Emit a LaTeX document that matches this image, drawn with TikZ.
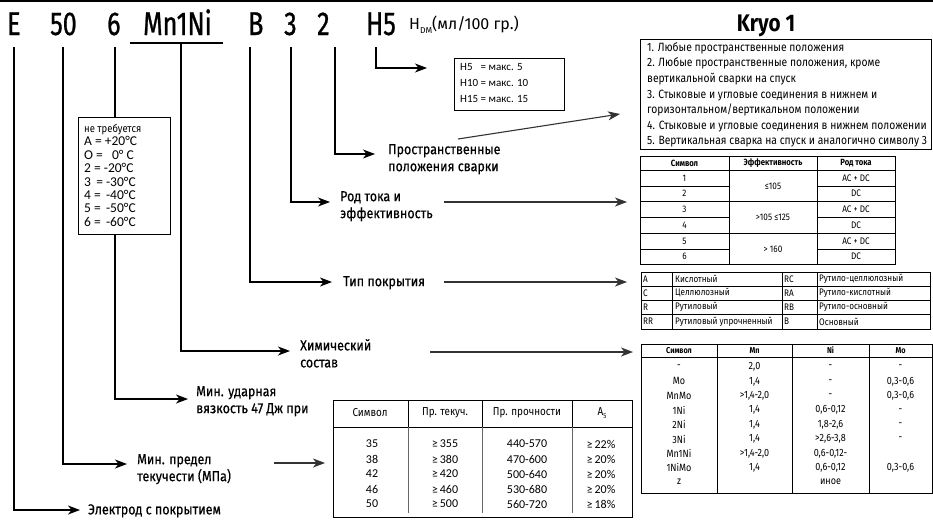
\documentclass[tikz,border=0pt]{standalone}
\usepackage{fontspec}
\setmainfont{Fira Sans}[FakeStretch=0.86]
\newfontfamily\calfont{Carlito}
\newfontfamily\medfont{Fira Sans}[FakeStretch=0.86,FakeBold=0.5]
\newfontfamily\hdrfont{Fira Sans}[FakeStretch=0.76,FakeBold=0.8]
\newfontfamily\widefont{Fira Sans}
\usetikzlibrary{arrows.meta}
\begin{document}
\begin{tikzpicture}[x=1pt,y=-1pt,
  conn/.style={line width=1.1pt,-{Stealth[length=12pt,width=9pt,inset=3.5pt]}},
  farr/.style={line width=1.1pt,black!80,-{Stealth[length=12pt,width=9pt,inset=3.5pt]}},
  lnk/.style={line width=1.1pt},
  grid/.style={line width=0.8pt},
  hdr/.style={anchor=base west,inner sep=0pt,font=\hdrfont\fontsize{33}{33}\selectfont},
  lbl/.style={anchor=north west,inner sep=0pt,align=left,font=\medfont\fontsize{14.5}{17}\selectfont},
  cellc/.style={inner sep=0pt,anchor=center},
  celll/.style={inner sep=0pt,anchor=west},
]
\useasboundingbox (0,0) rectangle (933,522);
\fill[white] (0,0) rectangle (933,522);
\draw[line width=2pt] (0,1) -- (933,1);

% ---- header code
\node[hdr] (hE) at (7,35) {E};
\node[hdr] (h50) at (50,35) {50};
\node[hdr] (h6) at (107,35) {6};
\node[hdr] (hMn) at (143,35) {Mn1Ni};
\node[hdr] (hB) at (248,35) {B};
\node[hdr] (h3) at (284,35) {3};
\node[hdr] (h2) at (317,35) {2};
\node[hdr] (hH) at (366,35) {H5};
\node[anchor=base west,inner sep=0pt,font=\widefont\fontsize{16}{16}\selectfont] (hdm) at (409,29) {H\raisebox{-4pt}{\fontsize{8.5}{8.5}\selectfont DM}(мл/100 гр.)};
\draw[lnk] (130,43) -- (223,43);

% ---- title
\node[anchor=base,inner sep=0pt,font=\fontsize{24}{24}\selectfont\bfseries] (kt) at (766,31) {Kryo 1};

% ---- connector tops and tips
\coordinate (cE) at (14,47);   \coordinate (aE) at (80,510);
\coordinate (c50) at (63,47);  \coordinate (a50) at (127,464);
\coordinate (c6) at (115,47);  \coordinate (a6) at (188,399);
\coordinate (cMn) at (181,43); \coordinate (aMn) at (290,351);
\coordinate (cB) at (250,47);  \coordinate (aB) at (332,282);
\coordinate (c3) at (291,47);  \coordinate (a3) at (330,202);
\coordinate (c2) at (335,47);  \coordinate (a2) at (375,154);
\coordinate (cH) at (376,47);  \coordinate (aH) at (427,68);

% ---- temperature box
\node[draw,line width=0.9pt,minimum width=92pt,minimum height=117pt,anchor=north west,inner sep=0pt] (tbox) at (78,117) {};
\node[anchor=north west,inner sep=0pt,align=left,font=\calfont\fontsize{13.5}{13.4}\selectfont] (ttext) at (84,124)
{{\rmfamily\fontsize{11}{11}\selectfont не требуется}\\A = +20°C\\O = \ \ 0° C\\2 = -20°C\\3 \,= -30°C\\4 = \,-40°C\\5 = \,-50°C\\6 = \,-60°C};

% ---- H box
\node[draw,line width=0.9pt,minimum width=110pt,minimum height=52pt,anchor=north west,inner sep=0pt] (hbox) at (454,58) {};
\node[anchor=north west,inner sep=0pt,align=left,font=\calfont\fontsize{11}{16}\selectfont] (htext) at (460,63)
{H5\hphantom{0} = макс. 5\\H10 = макс. 10\\H15 = макс. 15};

% ---- labels
\node[lbl] (lE) at (88,504) {Электрод с покрытием};
\node[lbl] (l50) at (137,454) {Мин. предел\\текучести (МПа)};
\node[lbl] (l6) at (196,386) {Мин. ударная\\вязкость 47 Дж при};
\node[lbl] (lMn) at (300,339) {Химический\\состав};
\node[lbl] (lB) at (343,276) {Тип покрытия};
\node[lbl] (l3) at (340,191) {Род тока и\\эффективность};
\node[lbl] (l2) at (388,144) {Пространственные\\положения сварки};

% ---- connectors
\draw[conn] (cE) |- (aE);
\draw[conn] (c50) |- (a50);
\draw[lnk] (c6) -- (c6 |- tbox.north);
\draw[conn] (c6 |- tbox.south) |- (a6);
\draw[conn] (cMn) |- (aMn);
\draw[conn] (cB) |- (aB);
\draw[conn] (c3) |- (a3);
\draw[conn] (c2) |- (a2);
\draw[conn] (cH) |- (aH);

\coordinate (s2) at (458,139); \coordinate (e2) at (620,114);
\coordinate (s3) at (444,202); \coordinate (e3) at (627,202);
\coordinate (sB) at (444,282); \coordinate (eB) at (627,282);
\coordinate (sM) at (430,352); \coordinate (eM) at (633,352);
\coordinate (s50) at (274,463); \coordinate (e50) at (325,463);
\draw[farr] (s2) -- (e2);
\draw[farr] (s3) -- (e3);
\draw[farr] (sB) -- (eB);
\draw[farr] (sM) -- (eM);
\draw[farr] (s50) -- (e50);

% ---- Kryo box
\node[draw,line width=0.9pt,minimum width=291pt,minimum height=110pt,anchor=north west,inner sep=0pt] (kbox) at (640,39) {};
\node[anchor=north west,inner sep=0pt,align=left,font=\fontsize{12}{15.6}\selectfont] (ktext) at (647,42)
{1. Любые пространственные положения\\
2. Любые пространственные положения, кроме\\
вертикальной сварки на спуск\\
3. Стыковые и угловые соединения в нижнем и\\
горизонтальном/вертикальном положении\\
4. Стыковые и угловые соединения в нижнем положении\\
5. Вертикальная сварка на спуск и аналогично символу 3};

% ---- table 2 (current / efficiency)
\draw[grid] (640,156) rectangle (895,264.5);
\draw[grid] (729,156) -- (729,264.5) (817,156) -- (817,264.5) (640,170) -- (895,170);
\foreach \yy in {186,201.5,217,233,249} \draw[grid] (640,\yy) -- (729,\yy) (817,\yy) -- (895,\yy);
\foreach \yy in {201.5,233} \draw[grid] (729,\yy) -- (817,\yy);
\node[cellc,font=\fontsize{9}{9}\selectfont\bfseries] (t2h1) at (684.5,163) {Символ};
\node[cellc,font=\fontsize{9}{9}\selectfont\bfseries] (t2h2) at (773,163) {Эффективность};
\node[cellc,font=\fontsize{9}{9}\selectfont\bfseries] (t2h3) at (856,163) {Род тока};
\foreach \yc/\cur [count=\i] in {178/AC + DC,193.7/DC,209.2/AC + DC,225/DC,241/AC + DC,256.7/DC} {
  \node[cellc,font=\fontsize{9.5}{9.5}\selectfont] (t2s\i) at (684.5,\yc) {\i};
  \node[cellc,font=\fontsize{9.5}{9.5}\selectfont] (t2c\i) at (856,\yc) {\cur};
}
\node[cellc,font=\fontsize{9.5}{9.5}\selectfont] (t2e1) at (773,186) {≤105};
\node[cellc,font=\fontsize{9.5}{9.5}\selectfont] (t2e2) at (773,217) {>105 ≤125};
\node[cellc,font=\fontsize{9.5}{9.5}\selectfont] (t2e3) at (773,249) {> 160};

% ---- table 3 (coating)
\draw[grid] (641,272) rectangle (930,329);
\draw[grid] (672,272) -- (672,329) (782,272) -- (782,329) (817,272) -- (817,329);
\foreach \yy in {286,300,314} \draw[grid] (641,\yy) -- (930,\yy);
\foreach \yc/\ca/\cb/\cc/\cd [count=\i] in {279/A/Кислотный/RC/Рутило-целлюлозный,293/C/Целлюлозный/RA/Рутило-кислотный,307/R/Рутиловый/RB/Рутило-основный,321.5/RR/Рутиловый упрочненный/B/Основный} {
  \node[celll,font=\fontsize{9.5}{9.5}\selectfont] (t3a\i) at (643,\yc) {\ca};
  \node[celll,font=\fontsize{9.5}{9.5}\selectfont] (t3b\i) at (675,\yc) {\cb};
  \node[celll,font=\fontsize{9.5}{9.5}\selectfont] (t3c\i) at (784,\yc) {\cc};
  \node[celll,font=\fontsize{9.5}{9.5}\selectfont] (t3d\i) at (819,\yc) {\cd};
}

% ---- table 4 (chemistry)
\draw[grid] (641,344) rectangle (932,493);
\draw[grid] (717,344) -- (717,493) (792,344) -- (792,493) (869,344) -- (869,493) (641,357) -- (932,357);
\node[cellc,font=\fontsize{8.5}{8.5}\selectfont\bfseries] (t4h1) at (679,350.5) {Символ};
\node[cellc,font=\fontsize{8.5}{8.5}\selectfont\bfseries] (t4h2) at (754.5,350.5) {Mn};
\node[cellc,font=\fontsize{8.5}{8.5}\selectfont\bfseries] (t4h3) at (830.5,350.5) {Ni};
\node[cellc,font=\fontsize{8.5}{8.5}\selectfont\bfseries] (t4h4) at (900.5,350.5) {Mo};
\foreach \sa/\sb/\sc/\sd [count=\i] in {{-}/{2,0}/{-}/{-},{Mo}/{1,4}/{-}/{0,3-0,6},{MnMo}/{>1,4-2,0}/{-}/{0,3-0,6},{1Ni}/{1,4}/{0,6-0,12}/{-},{2Ni}/{1,4}/{1,8-2,6}/{-},{3Ni}/{1,4}/{>2,6-3,8}/{-},{Mn1Ni}/{>1,4-2,0}/{0,6-0,12-}/{},{1NiMo}/{1,4}/{0,6-0,12}/{0,3-0,6},{z}/{}/{иное}/{}} {
  \pgfmathsetmacro{\yc}{367+14.4*(\i-1)}
  \node[cellc,font=\fontsize{10.5}{10.5}\selectfont] (t4a\i) at (679,\yc) {\sa};
  \node[cellc,font=\fontsize{10.5}{10.5}\selectfont] (t4b\i) at (754.5,\yc) {\sb};
  \node[cellc,font=\fontsize{10.5}{10.5}\selectfont] (t4c\i) at (830.5,\yc) {\sc};
  \node[cellc,font=\fontsize{10.5}{10.5}\selectfont] (t4d\i) at (900.5,\yc) {\sd};
}

% ---- table 1 (yield)
\draw[grid] (333,400) rectangle (632,517);
\draw[grid] (333,427) -- (632,427);
\draw[grid] (408,400) -- (408,427) (482,400) -- (482,427) (572,400) -- (572,427);
\draw[line width=0.8pt,black!60] (408,427) -- (408,513) (482,427) -- (482,513) (572,427) -- (572,513);
\node[cellc,font=\fontsize{11.5}{11.5}\selectfont] (t1h1) at (370,413) {Символ};
\node[cellc,font=\fontsize{11.5}{11.5}\selectfont] (t1h2) at (445,413) {Пр. текуч.};
\node[cellc,font=\fontsize{11.5}{11.5}\selectfont] (t1h3) at (527,413) {Пр. прочности};
\node[cellc,font=\fontsize{11.5}{11.5}\selectfont] (t1h4) at (602,413) {A\raisebox{-3pt}{\fontsize{7}{7}\selectfont 5}};
\foreach \ya/\sy/\yl/\tn/\el [count=\i] in {444/35/355/440-570/22,459/38/380/470-600/20,474/42/420/500-640/20,489/46/460/530-680/20,504/50/500/560-720/18} {
  \node[cellc,font=\calfont\fontsize{12}{12}\selectfont] (t1a\i) at (372,\ya) {\sy};
  \node[cellc,font=\calfont\fontsize{12}{12}\selectfont] (t1b\i) at (445,\ya) {≥\,\yl};
  \node[cellc,font=\calfont\fontsize{12}{12}\selectfont] (t1c\i) at (527,\ya) {\tn};
  \node[cellc,font=\calfont\fontsize{12}{12}\selectfont] (t1d\i) at (601,\ya) {≥\,\el\%};
}
\end{tikzpicture}
\end{document}
